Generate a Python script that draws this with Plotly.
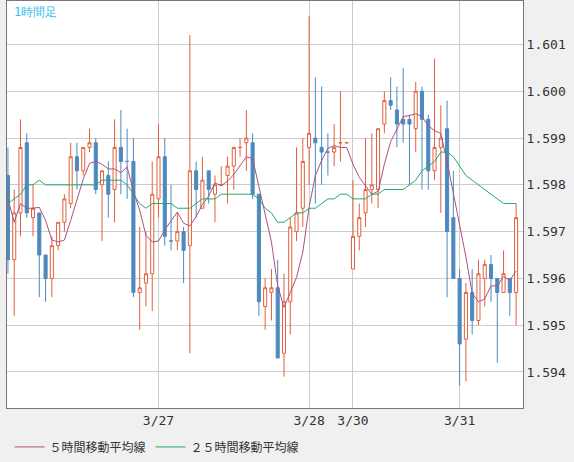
import pandas as pd
import plotly.graph_objects as go

opens = [1.5982, 1.5964, 1.5974, 1.5989, 1.5973, 1.5974, 1.5965, 1.5960, 1.5967, 1.5972,
         1.5976, 1.5986, 1.5983, 1.5988, 1.5989, 1.5980, 1.5982, 1.5979, 1.5988, 1.5985,
         1.5985, 1.5957, 1.5959, 1.5961, 1.5977, 1.5986, 1.5968, 1.5968, 1.5970, 1.5967,
         1.5983, 1.5975, 1.5983, 1.5978, 1.5980, 1.5982, 1.5984, 1.5988, 1.5989, 1.5989,
         1.5978, 1.5954, 1.5957, 1.5958, 1.5944, 1.5955, 1.5970, 1.5975, 1.5988, 1.5990,
         1.5988, 1.5987, 1.5987, 1.5989, 1.5989, 1.5962, 1.5969, 1.5974, 1.5979, 1.5979,
         1.5993, 1.5998, 1.5996, 1.5994, 1.5994, 1.5992, 1.6000, 1.5994, 1.5983, 1.5988,
         1.5992, 1.5973, 1.5960, 1.5947, 1.5957, 1.5951, 1.5960, 1.5963, 1.5960, 1.5957,
         1.5960, 1.5957]
highs = [1.5988, 1.5979, 1.5994, 1.5991, 1.5980, 1.5974, 1.5965, 1.5969, 1.5972, 1.5978,
         1.5989, 1.5989, 1.5988, 1.5992, 1.5990, 1.5983, 1.5985, 1.5994, 1.5996, 1.5992,
         1.5990, 1.5971, 1.5970, 1.5985, 1.5993, 1.5990, 1.5980, 1.5974, 1.5971, 1.6012,
         1.5985, 1.5986, 1.5983, 1.5982, 1.5984, 1.5986, 1.5988, 1.5990, 1.5996, 1.5991,
         1.5978, 1.5960, 1.5962, 1.5964, 1.5961, 1.5973, 1.5988, 1.5990, 1.6016, 1.6003,
         1.6001, 1.5991, 1.5993, 1.6000, 1.5989, 1.5981, 1.5976, 1.5990, 1.5991, 1.5992,
         1.6000, 1.6003, 1.6001, 1.6005, 1.5995, 1.6002, 1.6001, 1.5995, 1.6007, 1.5997,
         1.5998, 1.5983, 1.5962, 1.5959, 1.5962, 1.5964, 1.5964, 1.5965, 1.5960, 1.5966,
         1.5960, 1.5976]
lows = [1.5961, 1.5952, 1.5969, 1.5973, 1.5969, 1.5956, 1.5955, 1.5956, 1.5966, 1.5970,
        1.5975, 1.5979, 1.5982, 1.5987, 1.5978, 1.5968, 1.5973, 1.5972, 1.5978, 1.5977,
        1.5956, 1.5949, 1.5954, 1.5953, 1.5973, 1.5967, 1.5966, 1.5966, 1.5959, 1.5944,
        1.5973, 1.5975, 1.5976, 1.5972, 1.5980, 1.5976, 1.5979, 1.5986, 1.5983, 1.5977,
        1.5952, 1.5949, 1.5951, 1.5943, 1.5939, 1.5948, 1.5968, 1.5971, 1.5980, 1.5976,
        1.5980, 1.5982, 1.5984, 1.5985, 1.5989, 1.5962, 1.5966, 1.5971, 1.5976, 1.5975,
        1.5991, 1.5996, 1.5988, 1.5989, 1.5980, 1.5987, 1.5979, 1.5979, 1.5981, 1.5974,
        1.5956, 1.5960, 1.5937, 1.5938, 1.5948, 1.5950, 1.5954, 1.5955, 1.5942, 1.5957,
        1.5952, 1.5950]
closes = [1.5964, 1.5974, 1.5988, 1.5974, 1.5975, 1.5965, 1.5960, 1.5967, 1.5972, 1.5977,
          1.5986, 1.5983, 1.5988, 1.5989, 1.5979, 1.5983, 1.5978, 1.5988, 1.5985, 1.5985,
          1.5957, 1.5958, 1.5961, 1.5978, 1.5986, 1.5969, 1.5968, 1.5970, 1.5966, 1.5983,
          1.5979, 1.5981, 1.5979, 1.5980, 1.5980, 1.5984, 1.5988, 1.5988, 1.5990, 1.5978,
          1.5955, 1.5958, 1.5958, 1.5943, 1.5955, 1.5971, 1.5974, 1.5985, 1.5991, 1.5989,
          1.5987, 1.5987, 1.5988, 1.5989, 1.5989, 1.5969, 1.5973, 1.5979, 1.5980, 1.5992,
          1.5998, 1.5997, 1.5993, 1.5993, 1.5993, 1.6000, 1.5994, 1.5983, 1.5988, 1.5990,
          1.5970, 1.5960, 1.5946, 1.5957, 1.5951, 1.5961, 1.5963, 1.5960, 1.5957, 1.5961,
          1.5957, 1.5973]
# first four 5-hour MA values (need history before the window)
ma5_head = [1.5977, 1.5972, 1.5976, 1.5975]
ma25 = [1.5976, 1.5977, 1.5978, 1.5980, 1.5980, 1.5981, 1.5980, 1.5980, 1.5980, 1.5980,
        1.5980, 1.5980, 1.5980, 1.5980, 1.5980, 1.5981, 1.5981, 1.5981, 1.5981, 1.5980,
        1.5978, 1.5976, 1.5975, 1.5976, 1.5976, 1.5976, 1.5976, 1.5975, 1.5975, 1.5975,
        1.5976, 1.5977, 1.5977, 1.5977, 1.5978, 1.5978, 1.5978, 1.5978, 1.5978, 1.5978,
        1.5977, 1.5975, 1.5974, 1.5972, 1.5972, 1.5973, 1.5974, 1.5974, 1.5975, 1.5975,
        1.5976, 1.5977, 1.5977, 1.5978, 1.5978, 1.5977, 1.5977, 1.5977, 1.5978, 1.5978,
        1.5979, 1.5979, 1.5979, 1.5979, 1.5980, 1.5981, 1.5983, 1.5984, 1.5985, 1.5987,
        1.5987, 1.5986, 1.5984, 1.5982, 1.5981, 1.5980, 1.5979, 1.5978, 1.5977, 1.5976,
        1.5976, 1.5976]
tick_idx = [24, 48, 55, 72]
tick_text = ['3/27', '3/28', '3/30', '3/31']

x = list(range(len(closes)))
ma5 = pd.Series(closes).rolling(5).mean()
ma5[:4] = ma5_head

up_col = '#e0613b'
dn_col = '#4d89bf'

fig = go.Figure()
fig.add_trace(go.Candlestick(
    x=x, open=opens, high=highs, low=lows, close=closes,
    increasing=dict(line=dict(color=up_col, width=1), fillcolor='white'),
    decreasing=dict(line=dict(color=dn_col, width=1), fillcolor=dn_col),
    whiskerwidth=0, showlegend=False,
))
fig.add_trace(go.Scatter(x=x, y=ma5, mode='lines', name='５時間移動平均線',
                         line=dict(color='#b0507f', width=1)))
fig.add_trace(go.Scatter(x=x, y=ma25, mode='lines', name='２５時間移動平均線',
                         line=dict(color='#27a86b', width=1)))

fig.add_annotation(text='1時間足', xref='paper', yref='paper', x=0.01, y=0.995,
                   xanchor='left', yanchor='top', showarrow=False,
                   font=dict(color='#33c0f0', size=12))

fig.update_layout(
    width=574, height=462,
    margin=dict(l=7, r=51, t=1, b=50),
    paper_bgcolor='#f0f0f0', plot_bgcolor='white',
    font=dict(family='DejaVu Sans Mono', size=13, color='#333'),
    legend=dict(orientation='h', x=0.005, y=-0.06, xanchor='left', yanchor='top',
                font=dict(family='Noto Sans CJK JP', size=12, color='#333'),
                bgcolor='rgba(0,0,0,0)'),
)
fig.update_xaxes(range=[-0.15, 82.1], tickvals=tick_idx, ticktext=tick_text,
                 showgrid=True, gridcolor='#cccccc', rangeslider_visible=False,
                 showline=True, linecolor='#777', mirror=True, ticks='', zeroline=False)
fig.update_yaxes(range=[1.59323, 1.60193], side='right', dtick=0.001, tickformat='.3f',
                 showgrid=True, gridcolor='#cccccc', showline=True, linecolor='#777',
                 mirror=True, ticks='', zeroline=False)

fig.write_html('out.html', config={'displayModeBar': False},
               post_script="document.body.style.margin='0';")
